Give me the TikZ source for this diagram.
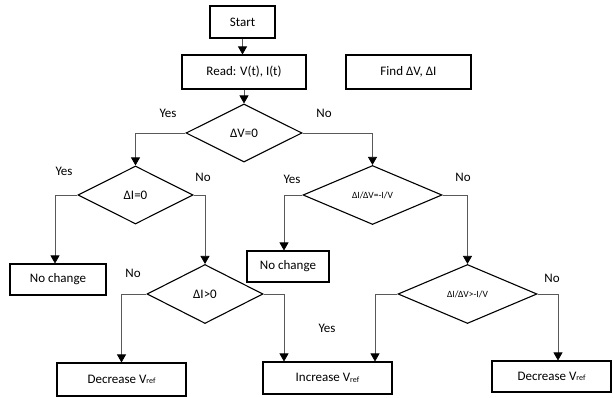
\documentclass[tikz,border=0pt]{standalone}
\usepackage{fontspec}
\setmainfont{Carlito}
\usetikzlibrary{shapes.geometric,arrows.meta,calc}
\newcommand{\vref}{V{\fontsize{8}{8}\selectfont\raisebox{-0.6pt}{ref}}}
\begin{document}
\begin{tikzpicture}[x=1pt,y=-1pt,
  every node/.style={font=\fontsize{13}{15}\selectfont, text=black},
  box/.style={draw=black, line width=1.1pt, rectangle, inner sep=0pt},
  dia/.style={draw=black, line width=1.1pt, diamond, inner sep=0pt, aspect=2},
  smalltxt/.style={font=\fontsize{9.5}{11}\selectfont},
  conn/.style={draw=black!65, line width=0.7pt, -{Triangle[width=9pt,length=8pt,color=black]}},
  lbl/.style={inner sep=0pt}]
\useasboundingbox (0,0) rectangle (613,398);
% boxes
\node[box, minimum width=65pt, minimum height=32pt] (start) at (242.5,22) {Start};
\node[box, minimum width=124pt, minimum height=34pt] (read) at (244,72) {Read: V(t), I(t)};
\node[box, minimum width=125pt, minimum height=34pt] (find) at (408.5,72) {Find ΔV, ΔI};
\node[box, minimum width=96pt, minimum height=31pt] (nc1) at (58,279.5) {No change};
\node[box, minimum width=82pt, minimum height=31pt] (nc2) at (288,266.5) {No change};
\node[box, minimum width=129pt, minimum height=33pt] (dec1) at (121.5,379.5) {Decrease \vref};
\node[box, minimum width=129pt, minimum height=32pt] (inc) at (327.5,378) {Increase \vref};
\node[box, minimum width=119pt, minimum height=31pt] (dec2) at (551.5,376.5) {Decrease \vref};
% decisions
\node[dia, minimum width=116pt, minimum height=58pt] (d1) at (244,133) {ΔV=0};
\node[dia, minimum width=115pt, minimum height=58pt] (d2) at (135.5,195) {ΔI=0};
\node[dia, smalltxt, minimum width=139pt, minimum height=59pt] (d3) at (372.5,195) {ΔI/ΔV=-I/V};
\node[dia, minimum width=116pt, minimum height=59pt] (d4) at (205,294) {ΔI>0};
\node[dia, smalltxt, minimum width=139pt, minimum height=59pt] (d5) at (467.5,294) {ΔI/ΔV>-I/V};
% connectors
\draw[conn] (start.south) -- (start.south |- read.north);
\draw[conn] (read.south) -- (d1.north);
\draw[conn] (d1.west) -| (d2.north);
\draw[conn] (d1.east) -| (d3.north);
\draw[conn] (d2.west) -| ([xshift=-3pt]nc1.north);
\draw[conn] (d2.east) -| (d4.north);
\draw[conn] (d3.west) -| ([xshift=-4pt]nc2.north);
\draw[conn] (d3.east) -| (d5.north);
\draw[conn] (d4.west) -| (dec1.north);
\draw[conn] (d4.east) -| ([xshift=-43.5pt]inc.north);
\draw[conn] (d5.west) -| ([xshift=47.5pt]inc.north);
\draw[conn] (d5.east) -| ([xshift=6.5pt]dec2.north);
% labels
\node[lbl] (y1) at (168,113) {Yes};
\node[lbl] (n1) at (324,113) {No};
\node[lbl] (y2) at (64,171) {Yes};
\node[lbl] (n2) at (203,177) {No};
\node[lbl] (y3) at (292,179) {Yes};
\node[lbl] (n3) at (463,177) {No};
\node[lbl] (n4) at (133,273) {No};
\node[lbl] (y4) at (327,328) {Yes};
\node[lbl] (n5) at (552,278) {No};
\end{tikzpicture}
\end{document}
